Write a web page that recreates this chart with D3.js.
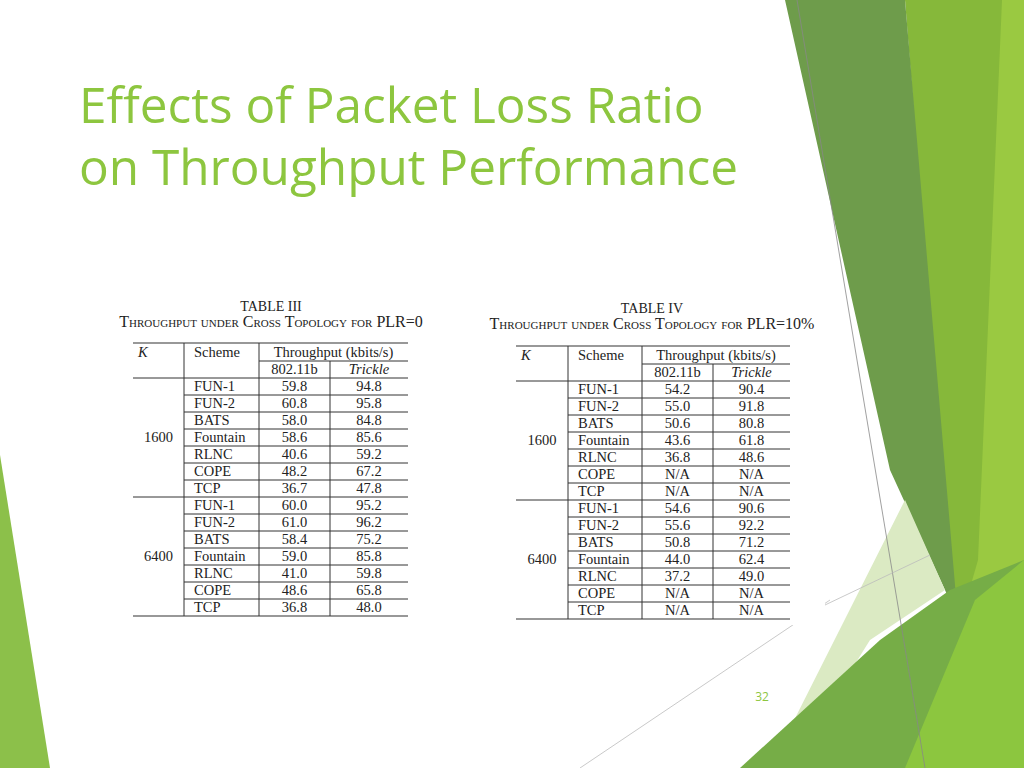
<!DOCTYPE html>
<html><head><meta charset="utf-8">
<script src="https://cdn.jsdelivr.net/npm/d3@7"></script>
<style>body{margin:0;background:#fff}svg{display:block}</style>
</head><body>
<script>
const schemes = ["FUN-1","FUN-2","BATS","Fountain","RLNC","COPE","TCP"];
const kValues = ["1600","6400"];
const t3_80211b = ["59.8","60.8","58.0","58.6","40.6","48.2","36.7","60.0","61.0","58.4","59.0","41.0","48.6","36.8"];
const t3_trickle = ["94.8","95.8","84.8","85.6","59.2","67.2","47.8","95.2","96.2","75.2","85.8","59.8","65.8","48.0"];
const t4_80211b = ["54.2","55.0","50.6","43.6","36.8","N/A","N/A","54.6","55.6","50.8","44.0","37.2","N/A","N/A"];
const t4_trickle = ["90.4","91.8","80.8","61.8","48.6","N/A","N/A","90.6","92.2","71.2","62.4","49.0","N/A","N/A"];
const titleLines = ["Effects of Packet Loss Ratio","on Throughput Performance"];

const svg = d3.select("body").append("svg").attr("width",1024).attr("height",768);

const deco = [
 {c:"#9ac941",p:[[1000,0],[1024,0],[1024,768],[900,768],[975,560]]},
 {c:"#86b83a",p:[[905,0],[1002,0],[978,560],[955,640]]},
 {c:"#6e9c4b",p:[[785,0],[905,0],[958,620],[945,590],[890,470]]},
 {c:"#dbeac3",p:[[905,500],[945,590],[870,640],[790,768],[770,768]]},
 {c:"#76ad47",p:[[740,768],[880,640],[950,590],[1024,560],[1024,768]]},
 {c:"#8cc63f",p:[[905,768],[975,600],[1024,560],[1024,768]]},
 {c:"#8cc04a",p:[[0,455],[50,768],[0,768]]}
];
svg.selectAll("polygon.d").data(deco).join("polygon").attr("points",d=>d.p.join(" ")).attr("fill",d=>d.c);
svg.append("line").attr("x1",797).attr("y1",0).attr("x2",925).attr("y2",768).attr("stroke","#888").attr("stroke-width",0.8);
svg.append("line").attr("x1",580).attr("y1",768).attr("x2",830).attr("y2",600).attr("stroke","#bbb").attr("stroke-width",0.8);
svg.append("rect").attr("x",480).attr("y",290).attr("width",345).attr("height",335).attr("fill","#fff");
svg.append("line").attr("x1",825).attr("y1",605).attr("x2",930).attr("y2",555).attr("stroke","#bbb").attr("stroke-width",0.8);

svg.selectAll("text.title").data(titleLines).join("text")
 .attr("x",79).attr("y",(d,i)=>123+i*62).text(d=>d)
 .attr("font-family","Open Sans, sans-serif").attr("font-size",49.5).attr("fill","#8dc63f");

svg.append("text").attr("x",762).attr("y",701).attr("text-anchor","middle").text("32")
 .attr("font-family","Open Sans, sans-serif").attr("font-size",12).attr("fill","#8dc63f");

function table(cfg){
 const g = svg.append("g").attr("font-family","Liberation Serif, serif").attr("fill","#222");
 const font = 14.5;
 g.append("text").attr("x",cfg.cx).attr("y",cfg.ty).attr("text-anchor","middle").attr("font-size",14).text(cfg.name);
 g.append("text").attr("x",cfg.cx).attr("y",cfg.ty+16).attr("text-anchor","middle").attr("font-size",16)
  .style("font-variant","small-caps").text(cfg.sub);
 const rows = d3.range(14);
 const y = d3.scaleBand().domain(rows).range([cfg.top+35,cfg.top+35+14*17]);
 const [x0,x1,x2,x3,x4] = cfg.xs;
 const ln=(a,b,yy,w)=>g.append("line").attr("x1",a).attr("x2",b).attr("y1",yy).attr("y2",yy).attr("stroke","#333").attr("stroke-width",w||1);
 const vl=(x,a,b)=>g.append("line").attr("x1",x).attr("x2",x).attr("y1",a).attr("y2",b).attr("stroke","#333").attr("stroke-width",1);
 ln(x0,x4,cfg.top,1.2);
 ln(x2,x4,cfg.top+18);
 ln(x0,x4,cfg.top+35);
 const bottom = y.range()[1];
 ln(x0,x4,bottom,1.2);
 vl(x1,cfg.top,bottom); vl(x2,cfg.top,bottom); vl(x3,cfg.top+18,bottom);
 rows.forEach(r=>{ if(r>0) ln(r===7?x0:x1,x4,y(r)); });
 g.append("text").attr("x",x0+5).attr("y",cfg.top+14).attr("font-size",font).attr("font-style","italic").text("K");
 g.append("text").attr("x",x1+10).attr("y",cfg.top+14).attr("font-size",font).text("Scheme");
 g.append("text").attr("x",(x2+x4)/2).attr("y",cfg.top+14).attr("text-anchor","middle").attr("font-size",font).text("Throughput (kbits/s)");
 g.append("text").attr("x",(x2+x3)/2).attr("y",cfg.top+31).attr("text-anchor","middle").attr("font-size",font).text("802.11b");
 g.append("text").attr("x",(x3+x4)/2).attr("y",cfg.top+31).attr("text-anchor","middle").attr("font-size",font).attr("font-style","italic").text("Trickle");
 kValues.forEach((k,i)=>g.append("text").attr("x",(x0+x1)/2).attr("y",y(i*7+3)+13).attr("text-anchor","middle").attr("font-size",font).text(k));
 rows.forEach(r=>{
  const yy=y(r)+13;
  g.append("text").attr("x",x1+10).attr("y",yy).attr("font-size",font).text(schemes[r%7]);
  g.append("text").attr("x",(x2+x3)/2).attr("y",yy).attr("text-anchor","middle").attr("font-size",font).text(cfg.a[r]);
  g.append("text").attr("x",(x3+x4)/2).attr("y",yy).attr("text-anchor","middle").attr("font-size",font).text(cfg.b[r]);
 });
}
table({name:"TABLE III",sub:"Throughput under Cross Topology for PLR=0",cx:271,ty:311,top:343,xs:[133,184,259,330,408],a:t3_80211b,b:t3_trickle});
table({name:"TABLE IV",sub:"Throughput under Cross Topology for PLR=10%",cx:652,ty:313,top:346,xs:[516,568,642,713,790],a:t4_80211b,b:t4_trickle});
</script>
</body></html>
